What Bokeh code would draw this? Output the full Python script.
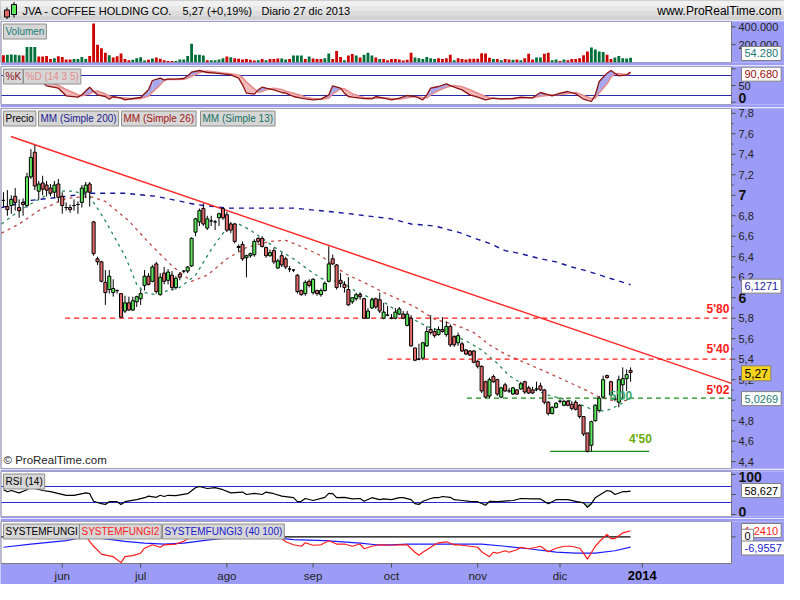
from bokeh.plotting import figure
from bokeh.models import Range1d, Label
from bokeh.layouts import column
from bokeh.embed import file_html
from bokeh.resources import INLINE

# ---------------- DATA ----------------
# daily candles, index 0 = mid May 2013 ... index 160 = 27 dic 2013
open_ = [6.95, 6.89, 6.90, 6.99, 6.88, 6.93, 6.90, 7.18, 7.42, 7.04,
         7.12, 7.10, 7.07, 7.03, 7.11, 6.99, 6.88, 6.88, 6.90, 6.91,
         6.93, 7.03, 7.11, 6.74, 6.38, 6.35, 6.15, 6.08, 6.05, 6.07,
         6.04, 5.87, 5.95, 5.88, 5.96, 5.99, 6.12, 6.21, 6.16, 6.33,
         6.03, 6.24, 6.17, 6.22, 6.10, 6.23, 6.26, 6.26, 6.31, 6.64,
         6.74, 6.87, 6.68, 6.75, 6.74, 6.78, 6.87, 6.81, 6.72, 6.72,
         6.49, 6.52, 6.39, 6.41, 6.42, 6.58, 6.58, 6.49, 6.41, 6.46,
         6.29, 6.41, 6.38, 6.28, 6.27, 6.22, 6.07, 6.04, 6.16, 6.05,
         6.07, 6.03, 6.07, 6.16, 6.38, 6.32, 6.17, 6.13, 6.08, 5.96,
         5.99, 6.03, 5.99, 5.80, 5.90, 5.99, 5.98, 5.80, 5.83, 5.80,
         5.80, 5.84, 5.84, 5.73, 5.80, 5.51, 5.40, 5.41, 5.53, 5.69,
         5.67, 5.64, 5.69, 5.64, 5.72, 5.62, 5.56, 5.55, 5.49, 5.48,
         5.48, 5.38, 5.33, 5.18, 5.04, 5.23, 5.20, 5.03, 5.15, 5.09,
         5.06, 5.10, 5.11, 5.18, 5.12, 5.10, 5.11, 5.14, 5.10, 4.98,
         4.87, 4.93, 4.99, 4.95, 4.99, 4.96, 4.98, 4.95, 4.84, 4.68,
         4.56, 4.80, 4.90, 5.03, 5.24, 5.18, 5.01, 4.98, 5.15, 5.21, 5.29]
high_ = [7.03, 7.05, 7.00, 7.07, 6.96, 6.97, 7.22, 7.45, 7.49, 7.14,
         7.19, 7.14, 7.11, 7.14, 7.16, 7.03, 6.93, 6.91, 6.96, 6.94,
         7.10, 7.13, 7.13, 6.75, 6.40, 6.36, 6.27, 6.27, 6.18, 6.08,
         6.04, 6.02, 6.01, 6.01, 6.02, 6.08, 6.27, 6.24, 6.32, 6.35,
         6.24, 6.30, 6.28, 6.26, 6.21, 6.25, 6.27, 6.31, 6.59, 6.78,
         6.87, 6.92, 6.80, 6.80, 6.76, 6.83, 6.88, 6.84, 6.74, 6.73,
         6.52, 6.55, 6.42, 6.44, 6.57, 6.59, 6.60, 6.50, 6.47, 6.49,
         6.38, 6.44, 6.40, 6.31, 6.28, 6.23, 6.08, 6.17, 6.18, 6.19,
         6.08, 6.09, 6.16, 6.50, 6.42, 6.33, 6.24, 6.16, 6.20, 6.00,
         6.05, 6.05, 6.00, 5.90, 6.00, 6.00, 6.05, 5.95, 5.92, 5.84,
         5.90, 5.91, 5.87, 5.87, 5.83, 5.51, 5.55, 5.57, 5.72, 5.83,
         5.70, 5.72, 5.81, 5.77, 5.74, 5.63, 5.66, 5.57, 5.50, 5.49,
         5.49, 5.39, 5.34, 5.19, 5.22, 5.25, 5.21, 5.13, 5.17, 5.12,
         5.13, 5.11, 5.18, 5.19, 5.14, 5.13, 5.18, 5.17, 5.11, 4.99,
         4.94, 4.98, 5.01, 5.00, 5.00, 4.99, 5.00, 4.96, 4.84, 4.68,
         4.80, 4.96, 5.04, 5.24, 5.25, 5.19, 5.05, 5.24, 5.32, 5.30, 5.32]
low_ = [6.88, 6.80, 6.82, 6.85, 6.78, 6.80, 6.88, 7.16, 7.05, 6.96,
        7.00, 6.99, 6.99, 6.97, 6.93, 6.82, 6.85, 6.83, 6.85, 6.82,
        6.88, 6.97, 6.89, 6.41, 6.32, 6.15, 5.93, 6.04, 6.01, 6.04,
        5.80, 5.85, 5.87, 5.87, 5.91, 5.93, 6.07, 6.12, 6.15, 6.04,
        6.02, 6.13, 6.13, 6.07, 6.08, 6.17, 6.24, 6.24, 6.30, 6.60,
        6.70, 6.70, 6.66, 6.70, 6.66, 6.70, 6.76, 6.64, 6.63, 6.53,
        6.45, 6.36, 6.20, 6.39, 6.40, 6.53, 6.49, 6.39, 6.40, 6.33,
        6.28, 6.30, 6.28, 6.25, 6.25, 6.04, 6.02, 6.02, 6.10, 6.03,
        6.02, 6.01, 6.06, 6.15, 6.32, 6.08, 6.10, 6.05, 5.92, 5.94,
        5.97, 5.98, 5.80, 5.80, 5.89, 5.89, 5.85, 5.79, 5.82, 5.79,
        5.79, 5.83, 5.79, 5.72, 5.52, 5.38, 5.39, 5.39, 5.52, 5.64,
        5.61, 5.63, 5.66, 5.62, 5.52, 5.52, 5.53, 5.47, 5.44, 5.43,
        5.36, 5.31, 5.07, 5.02, 5.02, 5.17, 5.04, 5.02, 5.08, 5.07,
        5.05, 5.05, 5.10, 5.06, 5.06, 5.06, 5.09, 5.09, 4.96, 4.85,
        4.86, 4.92, 4.97, 4.94, 4.94, 4.90, 4.90, 4.82, 4.65, 4.49,
        4.50, 4.79, 4.88, 5.02, 5.21, 5.03, 4.99, 4.93, 5.02, 5.09, 5.18]
close_ = [6.95, 6.86, 6.96, 6.93, 6.85, 6.91, 7.18, 7.37, 7.09, 7.11,
          7.06, 7.05, 7.02, 7.10, 6.98, 6.90, 6.88, 6.86, 6.90, 6.91,
          7.07, 7.10, 7.03, 6.43, 6.35, 6.16, 6.05, 6.21, 6.09, 6.07,
          5.81, 5.95, 5.88, 5.97, 6.01, 6.04, 6.21, 6.13, 6.30, 6.06,
          6.20, 6.16, 6.25, 6.10, 6.19, 6.20, 6.26, 6.30, 6.58, 6.77,
          6.85, 6.72, 6.77, 6.75, 6.74, 6.82, 6.78, 6.66, 6.66, 6.55,
          6.50, 6.38, 6.41, 6.43, 6.55, 6.55, 6.50, 6.41, 6.44, 6.35,
          6.36, 6.32, 6.30, 6.28, 6.27, 6.06, 6.03, 6.15, 6.12, 6.18,
          6.04, 6.07, 6.14, 6.33, 6.33, 6.10, 6.14, 6.10, 5.93, 6.00,
          6.03, 6.01, 5.80, 5.87, 5.98, 5.91, 5.87, 5.86, 5.83, 5.80,
          5.86, 5.89, 5.80, 5.84, 5.53, 5.39, 5.40, 5.56, 5.67, 5.66,
          5.63, 5.69, 5.67, 5.72, 5.54, 5.54, 5.63, 5.48, 5.45, 5.44,
          5.37, 5.33, 5.09, 5.03, 5.20, 5.18, 5.06, 5.12, 5.09, 5.09,
          5.12, 5.06, 5.16, 5.08, 5.07, 5.07, 5.11, 5.10, 4.98, 4.87,
          4.93, 4.97, 4.99, 4.99, 4.95, 4.92, 4.91, 4.84, 4.67, 4.50,
          4.79, 4.95, 5.02, 5.20, 5.22, 5.05, 5.01, 5.20, 5.21, 5.25, 5.27]

# volume in thousands of shares, with its bar colour (r = down, g = up)
volume_k = [82, 86, 90, 86, 82, 78, 175, 175, 175, 67,
            67, 74, 38, 49, 71, 63, 34, 34, 38, 38,
            63, 38, 74, 437, 198, 161, 108, 82, 56, 71,
            101, 38, 26, 30, 49, 60, 22, 30, 45, 56,
            41, 26, 18, 18, 18, 34, 34, 74, 209, 86,
            86, 78, 26, 26, 26, 34, 49, 67, 60, 49,
            41, 34, 38, 30, 22, 26, 38, 26, 38, 38,
            45, 45, 34, 38, 78, 78, 78, 38, 67, 45,
            38, 38, 49, 101, 38, 130, 63, 26, 78, 94,
            78, 56, 86, 108, 78, 56, 38, 38, 26, 38,
            38, 34, 22, 30, 108, 56, 49, 38, 63, 49,
            38, 49, 38, 49, 86, 26, 49, 38, 34, 41,
            41, 41, 105, 101, 52, 38, 38, 26, 38, 34,
            30, 34, 26, 49, 97, 34, 56, 56, 97, 108,
            26, 34, 18, 34, 26, 38, 38, 49, 82, 123,
            168, 146, 123, 119, 86, 38, 56, 74, 49, 45, 54]
volume_dir = ("rggggrgggr" "rrrgrrrrgg" "ggrrrrrgrr" "rrrggggrgr" "rrrrgggggg"
              "ggrggggrgr" "rrrrrgrgrr" "rggrgggrgr" "rrggrrrgrr" "grgggrgrrr"
              "rrrrrggggg" "grrrrgrrrr" "rrrrrgrgrr" "grgrrrggrr" "ggrgrrrrrr"
              "ggggrrggggg")

# moving averages (sampled along the curves)
ma13_x = [-0.5, 4, 9, 13, 18, 22, 26, 31, 34, 36, 39, 42, 45, 49, 53, 57, 60, 63, 66, 70,
          74, 79, 82, 86, 90, 94, 97, 100, 104, 108, 113, 118, 122, 126, 129, 134, 139, 145,
          149, 151, 154, 157, 160]
ma13_v = [6.72, 6.85, 6.96, 7.04, 7.04, 6.99, 6.75, 6.41, 6.13, 6.05, 6.03, 6.07, 6.10, 6.22,
          6.47, 6.68, 6.72, 6.66, 6.58, 6.47, 6.38, 6.24, 6.17, 6.16, 6.06, 5.99, 5.96, 5.88,
          5.80, 5.72, 5.66, 5.58, 5.49, 5.36, 5.24, 5.12, 5.05, 4.99, 4.93, 4.89, 4.90, 4.95, 5.03]
ma26_x = [-0.5, 4, 9, 16, 22, 26, 32, 37, 43, 48, 52, 57, 62, 68, 72, 76, 81, 85, 88, 93,
          97, 100, 105, 110, 115, 120, 124, 128, 131, 137, 144, 149, 152, 156, 160]
ma26_v = [6.63, 6.72, 6.85, 6.97, 6.99, 6.94, 6.75, 6.54, 6.31, 6.16, 6.22, 6.38, 6.49, 6.55,
          6.56, 6.50, 6.41, 6.29, 6.22, 6.13, 6.05, 6.00, 5.91, 5.79, 5.74, 5.66, 5.54, 5.45,
          5.40, 5.30, 5.18, 5.09, 5.03, 4.99, 5.00]
ma200_x = [-0.5, 7, 14, 22, 31, 39, 49, 57, 74, 86, 99, 104, 110, 116, 121, 124, 128, 132,
           137, 141, 145, 149, 153, 160]
ma200_v = [6.88, 6.95, 6.98, 7.02, 7.02, 6.99, 6.91, 6.875, 6.875, 6.83, 6.77, 6.72, 6.70,
           6.64, 6.57, 6.53, 6.46, 6.43, 6.38, 6.35, 6.30, 6.26, 6.21, 6.127]

# drawn objects
trend_x = [1.9, 185.75]
trend_v = [7.573, 5.164]
level_v = [5.80, 5.40, 5.02, 4.50]
level_from = [15.75, 98, 118.25, 139.5]
level_to = [185.75, 185.75, 185.75, 164.75]
level_txt = ["5'80", "5'40", "5'02", "4'50"]

# stochastic %K / %D
sto_x = [0, 3, 6, 9, 11, 14, 16, 19, 20, 22, 23, 24, 26, 27, 28, 30, 31, 33, 35, 37,
         38, 40, 41, 42, 44, 46, 47, 48, 50, 51, 52, 54, 56, 58, 60, 61, 62, 64, 65, 66,
         67, 69, 71, 72, 74, 76, 77, 79, 81, 83, 84, 86, 87, 88, 89, 91, 92, 94, 95, 97,
         99, 101, 103, 105, 107, 108, 109, 111, 113, 115, 117, 119, 121, 123, 125, 127, 130, 132, 135, 137,
         140, 142, 144, 146, 148, 150, 151, 152, 154, 155, 156, 157, 159, 160]
sto_k = [85, 80, 88, 67, 49, 42, 19, 15, 22, 45, 32, 22, 17, 9, 17, 12, 7, 11, 14, 37,
         65, 72, 67, 69, 69, 71, 79, 90, 95, 92, 89, 87, 85, 82, 72, 52, 27, 24, 37, 45,
         42, 37, 29, 27, 17, 12, 10, 7, 9, 22, 49, 42, 27, 17, 15, 12, 11, 10, 17, 12,
         7, 12, 20, 17, 7, 22, 42, 47, 55, 45, 37, 22, 15, 7, 12, 10, 11, 15, 13, 29,
         19, 27, 32, 25, 9, 2, 22, 62, 87, 95, 87, 79, 82, 90.68]
sto_d = [82, 82, 80, 80, 65, 50, 38, 22, 19, 25, 32, 33, 25, 18, 14, 13, 12, 10, 11, 18,
         30, 52, 65, 69, 68, 69, 72, 78, 88, 92, 93, 90, 87, 85, 81, 74, 60, 40, 30, 32,
         37, 42, 38, 33, 27, 20, 15, 11, 9, 12, 25, 40, 40, 33, 25, 17, 14, 12, 12, 13,
         11, 9, 13, 17, 14, 13, 22, 35, 45, 50, 46, 37, 27, 17, 11, 10, 10, 12, 13, 18,
         22, 23, 26, 29, 20, 11, 12, 28, 55, 75, 85, 86, 82, 86]

# RSI (14)
rsi_x = [0, 1, 2, 4, 6, 7, 8, 10, 12, 16, 18, 21, 22, 23, 25, 26, 27, 29, 30, 31,
         34, 36, 37, 39, 40, 41, 42, 44, 47, 49, 50, 52, 54, 56, 58, 61, 62, 64, 66, 67,
         69, 71, 74, 75, 76, 77, 79, 82, 83, 84, 85, 87, 89, 91, 92, 94, 96, 97, 99, 101,
         102, 104, 105, 106, 107, 109, 110, 111, 112, 114, 115, 117, 119, 121, 123, 124, 126, 127, 130, 132,
         135, 137, 139, 141, 144, 146, 148, 149, 150, 151, 152, 154, 155, 156, 158, 159, 160]
rsi_v = [62, 57, 60, 54, 62, 71, 65, 60, 57, 48, 48, 54, 52, 33, 27, 25, 32, 32, 25, 32,
         37, 42, 46, 43, 48, 45, 48, 47, 52, 67, 70, 65, 67, 62, 54, 56, 50, 53, 50, 56,
         52, 46, 42, 32, 33, 40, 35, 43, 53, 52, 42, 43, 39, 40, 33, 42, 37, 39, 37, 42,
         42, 37, 27, 25, 33, 40, 42, 42, 45, 43, 37, 35, 33, 32, 23, 33, 32, 33, 35, 40,
         39, 39, 27, 37, 37, 33, 29, 18, 27, 42, 48, 60, 58, 50, 57, 57, 58.63]

# SYSTEMFUNGI 2 (red) and 3 (blue); SYSTEMFUNGI (black) is 0
sf2_x = [0, 10, 20, 21, 23, 25, 26, 28, 30, 31, 33, 35, 36, 38, 40, 41, 44, 46, 48, 50,
         60, 67, 69, 71, 72, 74, 76, 77, 79, 81, 83, 85, 87, 89, 91, 92, 94, 96, 99, 101,
         103, 105, 106, 107, 110, 111, 113, 115, 116, 119, 121, 122, 124, 125, 126, 128, 129, 131, 132, 134,
         136, 137, 139, 141, 143, 145, 147, 148, 149, 151, 152, 154, 155, 156, 158, 159, 160]
sf2_v = [1.6, 1.9, 0.9, 0.1, -1.9, -3.5, -3.7, -4.0, -5.2, -4.0, -3.8, -3.3, -2.3, -1.6, -2.1, -1.6, -1.45, -0.9, 0.1, 1.2,
         2.0, 1.0, 0.05, -0.35, -1.0, -1.6, -1.9, -1.2, -1.7, -1.6, -0.8, -1.45, -1.45, -1.9, -1.45, -2.4, -1.9, -1.6, -1.7, -1.6,
         -1.6, -3.1, -3.7, -3.1, -1.6, -1.2, -1.0, -1.6, -1.6, -1.9, -2.1, -3.0, -4.0, -3.1, -3.3, -2.8, -3.1, -2.6, -2.1, -2.4,
         -2.1, -1.9, -3.0, -2.3, -1.9, -1.9, -2.3, -3.3, -4.5, -1.9, -1.0, 0.5, -0.35, -0.35, 0.8, 1.0, 1.24]
sf3_x = [0, 7, 16, 21, 24, 31, 36, 41, 46, 53, 61, 66, 74, 82, 91, 95, 99, 103, 122, 128,
         134, 141, 146, 151, 156, 160]
sf3_v = [-2.1, -1.45, -0.75, 0.05, -0.2, -0.9, -1.25, -1.45, -1.25, -0.55, 0.05, 0.05, -0.55, -0.75, -1.25, -1.6,
         -1.6, -1.45, -1.45, -1.9, -2.4, -3.1, -3.3, -3.3, -2.8, -2.07]
sf1_x = [-0.5, 160]
sf1_v = [0, 0]

# axis labels
month_idx = [15, 35, 57, 79, 99, 121, 142]
month_lab = ["jun", "jul", "ago", "sep", "oct", "nov", "dic"]
year_idx = 163
year_lab = "2014"
price_ticks = [4.4, 4.6, 4.8, 5.0, 5.2, 5.4, 5.6, 5.8, 6.0, 6.2, 6.4, 6.6, 6.8, 7.0, 7.2, 7.4, 7.6, 7.8]
price_tick_lab = ["4,4", "4,6", "4,8", "", "5,2", "5,4", "5,6", "5,8", "6", "6,2", "6,4", "6,6",
                  "6,8", "7", "7,2", "7,4", "7,6", "7,8"]
price_minor = [4.5, 4.7, 4.9, 5.1, 5.3, 5.5, 5.7, 5.9, 6.1, 6.3, 6.5, 6.7, 6.9, 7.1, 7.3, 7.5, 7.7]
vol_ticks = [200, 400]
vol_tick_lab = ["200.000", "400.000"]

# ---------------- LAYOUT ----------------
W = 784
PLOT_W = 731            # plot area 0..731 px, right axis strip 731..784
X0, X1 = -0.5, 185.75
PPU = (PLOT_W - 1) / (X1 - X0)
XL = X0 - 1 / PPU
XR = X1 + (W - PLOT_W) / PPU
PURPLE = "#9c9cf6"
FONT = "Liberation Sans"
xr = Range1d(XL, XR)


def dx(px):
    return XL + px / PPU


def panel(h, yr, top, bottom, extra_px=0, frame_px=None):
    ylo = yr[0]
    if extra_px:
        ylo = yr[0] - extra_px * (yr[1] - yr[0]) / frame_px
    p = figure(width=W, height=h, x_range=xr, y_range=Range1d(ylo, yr[1]),
               output_backend="svg", toolbar_location=None,
               x_axis_location=None, y_axis_location=None,
               min_border_left=0, min_border_right=0,
               min_border_top=top, min_border_bottom=bottom)
    p.grid.visible = False
    p.border_fill_color = PURPLE
    p.background_fill_color = PURPLE
    p.outline_line_color = None
    p.quad(left=XL + 0.5 / PPU, right=X1, bottom=yr[0], top=yr[1],
           fill_color="white", line_color="#7c7c7c", line_width=1)
    return p


def add_label(p, x, y, text, color="black", size="11px", bold=False, align="left",
              baseline="middle", bg=None, border=None, pad=2):
    lab = Label(x=x, y=y, text=text, text_color=color, text_font=FONT,
                text_font_size=size, text_align=align, text_baseline=baseline,
                text_font_style="bold" if bold else "normal")
    if bg is not None:
        lab.background_fill_color = bg
        lab.background_fill_alpha = 1.0
    if border is not None:
        lab.border_line_color = border
        lab.border_line_width = 1
    if bg is not None or border is not None:
        try:
            lab.padding = pad
        except Exception:
            pass
    p.add_layout(lab)
    return lab


def right_ticks(p, vals, length_px):
    n = len(vals)
    p.segment(x0=[X1] * n, y0=vals, x1=[X1 + length_px / PPU] * n, y1=vals,
              color="#4a4a4a", line_width=1)


def axis_text(p, y, text, bold=False):
    add_label(p, X1 + 7 / PPU, y, text, size="14px" if bold else "11px",
              bold=bold, color="#111111" if bold else "#222222")


def title_box(p, px, yr, fh, text, color):
    y = yr[1] - 2.5 * (yr[1] - yr[0]) / fh
    return add_label(p, dx(px + 2), y, text, color=color, size="10px",
                     baseline="top", bg="#d6d6d6", border="#8e8e8e", pad=2)


def value_box(p, y, text, color, bg="white", size="11px"):
    return add_label(p, X1 + 10 / PPU, y, text, color=color, size=size,
                     bg=bg, border="#808080", pad=3)


# ---------------- HEADER ----------------
ph = figure(width=W, height=20, x_range=Range1d(0, W), y_range=Range1d(0, 20),
            output_backend="svg", toolbar_location=None,
            x_axis_location=None, y_axis_location=None, min_border=0)
ph.grid.visible = False
ph.background_fill_color = "#e2e2e2"
ph.border_fill_color = "#e2e2e2"
ph.outline_line_color = "#9a9a9a"
ph.quad(left=0, right=W, bottom=[0, 5, 10, 15], top=[5, 10, 15, 20],
        color=["#d2d2d2", "#dcdcdc", "#e7e7e7", "#f1f1f1"])
ph.segment(x0=[6.5, 13.5], y0=[1.5, 3], x1=[6.5, 13.5], y1=[13, 18.5], color="black")
ph.quad(left=[4, 11], right=[9, 16], bottom=[3.5, 6], top=[10.5, 16],
        fill_color=["#e46a6a", "#5ce65c"], line_color="black")
add_label(ph, 22, 10, "JVA - COFFEE HOLDING CO.", size="11px")
add_label(ph, 182, 10, "5,27 (+0,19%)", size="11px")
add_label(ph, 261, 10, "Diario  27 dic 2013", size="11px")
add_label(ph, W - 3, 10, "www.ProRealTime.com", size="12px", align="right")

idx = list(range(len(close_)))

# ---------------- VOLUME ----------------
VYR = (0, 460)
pv = panel(45, VYR, 1, 3)
vcol = ["#cc0000" if d == "r" else "#00703a" for d in volume_dir]
pv.vbar(x=idx, top=volume_k, bottom=0, width=0.72, fill_color=vcol, line_color=None)
right_ticks(pv, vol_ticks, 4)
for t, s in zip(vol_ticks, vol_tick_lab):
    axis_text(pv, t, s)
title_box(pv, 1, VYR, 41, "Volumen", "#1d7a78")
value_box(pv, 101, "54.280", "#1d7a78")

# ---------------- STOCHASTIC ----------------
SYR = (-7, 107)
ps = panel(42, SYR, 1, 3)
ps.line([X0, X1], [80, 80], color="#2a2aa8", line_width=1)
ps.line([X0, X1], [20, 20], color="#2a2aa8", line_width=1)
xs, ys, fc = [], [], []
for j in range(len(sto_x) - 1):
    xa, xb = sto_x[j], sto_x[j + 1]
    ka, kb, da, db = sto_k[j], sto_k[j + 1], sto_d[j], sto_d[j + 1]
    fa, fb = ka - da, kb - db
    if fa * fb >= 0:
        xs.append([xa, xb, xb, xa]); ys.append([ka, kb, db, da])
        fc.append("#a6a6ec" if fa + fb >= 0 else "#f3b9b9")
    else:
        t = fa / (fa - fb)
        xc = xa + t * (xb - xa); yc = ka + t * (kb - ka)
        xs.append([xa, xc, xa]); ys.append([ka, yc, da])
        fc.append("#a6a6ec" if fa > 0 else "#f3b9b9")
        xs.append([xc, xb, xb]); ys.append([yc, kb, db])
        fc.append("#a6a6ec" if fb > 0 else "#f3b9b9")
ps.patches(xs, ys, fill_color=fc, line_color=None)
ps.line(sto_x, sto_d, color="#e58c8c", line_width=1.6)
ps.line(sto_x, sto_k, color="#8c1111", line_width=1.3)
right_ticks(ps, [0, 50, 100], 4)
axis_text(ps, 50, "50")
axis_text(ps, 13, "0", bold=True)
title_box(ps, 1, SYR, 38, "%K", "#8c1111")
title_box(ps, 21, SYR, 38, "%D (14 3 5)", "#e58c8c")
value_box(ps, 84, "90,680", "#9a0f0f")

# ---------------- PRICE ----------------
PYR = (4.333, 7.847)
pp = panel(362, PYR, 1, 1)
pp.line(ma200_x, ma200_v, color="#16169a", line_width=1.4, line_dash="5 5")
pp.line(ma26_x, ma26_v, color="#b22a2a", line_width=1.3, line_dash="3 4", alpha=0.85)
pp.line(ma13_x, ma13_v, color="#2a8a5a", line_width=1.3, line_dash="3 4")
pp.line(trend_x, trend_v, color="#ff2a2a", line_width=1.5)
lvl_col = ["#ff1a1a", "#ff1a1a", "#1a8a1a", "#1a8a1a"]
lvl_dash = ["5 4", "5 4", "5 4", "solid"]
for v, a, b, c, d in zip(level_v, level_from, level_to, lvl_col, lvl_dash):
    pp.line([a, b], [v, v], color=c, line_width=1.3, line_dash=d)
cand_col = ["#5ce65c" if c > o else ("#e46a6a" if c < o else "black")
            for o, c in zip(open_, close_)]
pp.segment(x0=idx, y0=low_, x1=idx, y1=high_, color="black", line_width=1)
pp.vbar(x=idx, width=0.78, top=[max(o, c) for o, c in zip(open_, close_)],
        bottom=[min(o, c) for o, c in zip(open_, close_)],
        fill_color=cand_col, line_color="black", line_width=1)
ppy = (PYR[1] - PYR[0]) / 360.0
add_label(pp, 182.3, level_v[0] + 9 * ppy, level_txt[0], color="#ff1a1a", size="12px", bold=True, align="center")
add_label(pp, 182.3, level_v[1] + 10 * ppy, level_txt[1], color="#ff1a1a", size="12px", bold=True, align="center")
add_label(pp, 182.3, level_v[2] + 8 * ppy, level_txt[2], color="#ff1a1a", size="12px", bold=True, align="center")
add_label(pp, 162.5, level_v[3] + 12 * ppy, level_txt[3], color="#6aaa10", size="12px", bold=True, align="center")
add_label(pp, 157.5, 5.04, "5'00", color="#3aa86a", size="12px", bold=True, align="center")
add_label(pp, dx(3), PYR[0] + 3 * ppy, "\u00a9 ProRealTime.com", color="#222222", size="11.5px", baseline="bottom")
right_ticks(pp, price_ticks, 4)
right_ticks(pp, price_minor, 2)
for t, s in zip(price_ticks, price_tick_lab):
    if s:
        axis_text(pp, t, s, bold=("," not in s))
title_box(pp, 1, PYR, 360, "Precio", "black")
title_box(pp, 36, PYR, 360, "MM (Simple 200)", "#1a1a8c")
title_box(pp, 119, PYR, 360, "MM (Simple 26)", "#a31515")
title_box(pp, 198, PYR, 360, "MM (Simple 13)", "#16705e")
value_box(pp, 6.113, "6,1271", "#1a1aa0")
value_box(pp, 5.262, "5,27", "black", bg="#f5d21e", size="12px")
value_box(pp, 5.015, "5,0269", "#1d7a78")

# ---------------- RSI ----------------
RYR = (-5, 107.5)
pr = panel(49, RYR, 2, 2)
pr.varea(x=rsi_x, y1=[min(v, 30) for v in rsi_v], y2=[30] * len(rsi_v),
         fill_color="#9fc49f", fill_alpha=0.9)
pr.line([X0, X1], [70, 70], color="#2a2ad0", line_width=1)
pr.line([X0, X1], [30, 30], color="#2a2ad0", line_width=1)
pr.line(rsi_x, rsi_v, color="black", line_width=1.2)
right_ticks(pr, [0, 50, 100], 4)
axis_text(pr, 95, "100", bold=True)
axis_text(pr, 7.5, "0", bold=True)
title_box(pr, 1, RYR, 45, "RSI (14)", "black")
value_box(pr, 60, "58,627", "black")

# ---------------- SYSTEMFUNGI + date axis ----------------
FYR = (-5.38, 3.1)
pf = panel(66, FYR, 3, 0, extra_px=21, frame_px=42)
pf.line(sf3_x, sf3_v, color="#1a1aff", line_width=1.2)
pf.line(sf1_x, sf1_v, color="black", line_width=1.2)
pf.line(sf2_x, sf2_v, color="#ff1a1a", line_width=1.2)
right_ticks(pf, [0], 4)
title_box(pf, 1, FYR, 42, "SYSTEMFUNGI", "black")
title_box(pf, 77, FYR, 42, "SYSTEMFUNGI2", "#ff1a1a")
title_box(pf, 160, FYR, 42, "SYSTEMFUNGI3 (40 100)", "#1a1acc")
value_box(pf, 1.28, "1,2410", "#ff1a1a")
value_box(pf, 0.12, "0", "black")
value_box(pf, -2.25, "-6,9557", "#1a1acc")
fppy = (FYR[1] - FYR[0]) / 42.0
tick_top = FYR[0]
tick_bot = FYR[0] - 4 * fppy
pf.segment(x0=month_idx + [year_idx], y0=[tick_top] * 8, x1=month_idx + [year_idx],
           y1=[tick_bot] * 8, color="#4a4a4a")
for i, s in zip(month_idx, month_lab):
    add_label(pf, i, FYR[0] - 12 * fppy, s, size="11.5px", color="#222222", align="center")
add_label(pf, year_idx, FYR[0] - 12 * fppy, year_lab, size="13px", bold=True, align="center")

layout = column(ph, pv, ps, pp, pr, pf, spacing=0)
open("out.html", "w").write(file_html(layout, INLINE))
